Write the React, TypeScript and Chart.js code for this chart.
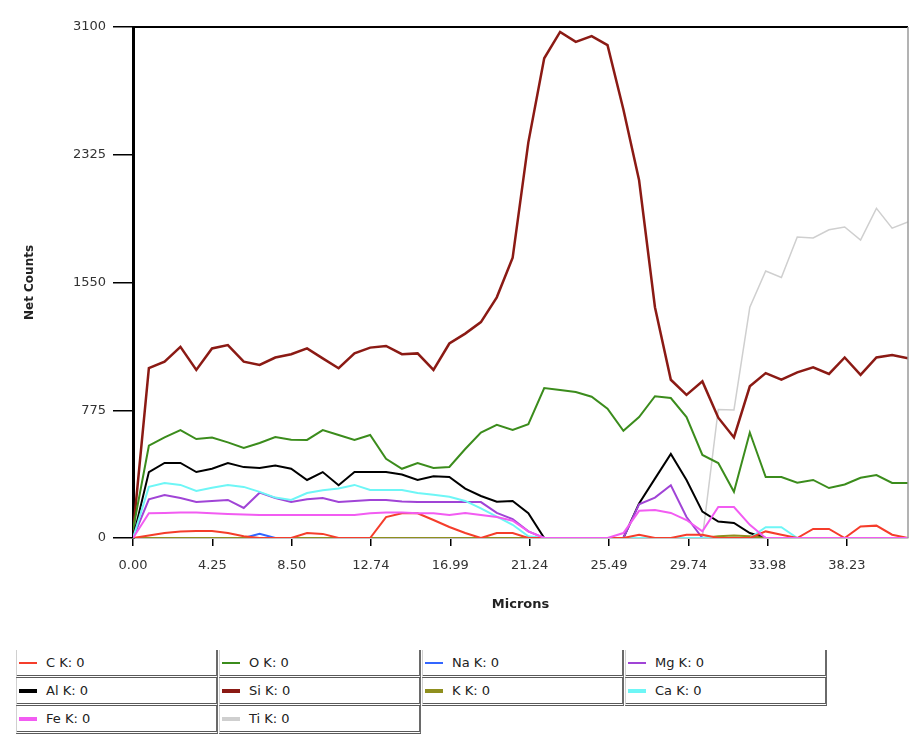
import React, { useEffect, useRef } from "react";
import { Chart, registerables } from "chart.js";

Chart.register(...registerables);

const microns = [
  0.0, 0.85, 1.69, 2.54, 3.39, 4.23, 5.08, 5.93, 6.78, 7.62,
  8.47, 9.32, 10.16, 11.01, 11.86, 12.7, 13.55, 14.4, 15.24, 16.09,
  16.94, 17.79, 18.63, 19.48, 20.33, 21.17, 22.02, 22.87, 23.71, 24.56,
  25.41, 26.26, 27.1, 27.95, 28.8, 29.64, 30.49, 31.34, 32.18, 33.03,
  33.88, 34.72, 35.57, 36.42, 37.27, 38.11, 38.96, 39.81, 40.65, 41.5,
];

const cK = [
  0, 15, 30, 40, 42, 42, 30, 10, 0, 0,
  0, 30, 25, 0, 0, 0, 127, 150, 150, 109,
  67, 30, 0, 30, 30, 0, 0, 0, 0, 0,
  0, 0, 20, 0, 0, 20, 20, 0, 0, 0,
  40, 20, 0, 55, 55, 0, 70, 75, 20, 0,
];
const oK = [
  50, 560, 610, 655, 600, 610, 580, 546, 576, 612,
  596, 595, 655, 625, 595, 625, 480, 420, 455, 425,
  431, 540, 640, 686, 655, 690, 910, 898, 886, 857,
  785, 650, 734, 860, 849, 734, 504, 455, 280, 640,
  370, 370, 336, 352, 303, 325, 365, 382, 334, 334,
];
const naK = [
  0, 0, 0, 0, 0, 0, 0, 0, 25, 0,
  0, 0, 0, 0, 0, 0, 0, 0, 0, 0,
  0, 0, 0, 0, 0, 0, 0, 0, 0, 0,
  0, 0, 0, 0, 0, 0, 0, 0, 0, 0,
  0, 0, 0, 0, 0, 0, 0, 0, 0, 0,
];
const mgK = [
  0, 235, 261, 243, 218, 225, 231, 182, 275, 243,
  218, 235, 243, 218, 225, 231, 231, 222, 218, 218,
  218, 218, 218, 152, 115, 40, 0, 0, 0, 0,
  0, 0, 205, 245, 320, 127, 0, 0, 0, 0,
  0, 0, 0, 0, 0, 0, 0, 0, 0, 0,
];
const alK = [
  0, 400, 455, 455, 400, 420, 455, 430, 425, 440,
  420, 352, 400, 320, 400, 400, 400, 385, 352, 375,
  370, 300, 255, 220, 225, 150, 0, 0, 0, 0,
  0, 0, 210, 360, 510, 352, 160, 100, 91, 30,
  0, 0, 0, 0, 0, 0, 0, 0, 0, 0,
];
const siK = [
  30, 1030, 1070, 1160, 1020, 1150, 1170, 1070, 1050, 1095,
  1115, 1150, 1090, 1030, 1120, 1155, 1165, 1115, 1120, 1020,
  1180, 1240, 1310, 1460, 1700, 2400, 2910, 3070, 3010, 3045,
  2990, 2600, 2170, 1400, 960, 868, 950, 730, 610, 920,
  1000, 960, 1005, 1035, 995, 1095, 990, 1095, 1110, 1090,
];
const kK = [
  0, 0, 0, 0, 0, 0, 0, 0, 0, 0,
  0, 0, 0, 0, 0, 0, 0, 0, 0, 0,
  0, 0, 0, 0, 0, 0, 0, 0, 0, 0,
  0, 0, 0, 0, 0, 0, 0, 10, 15, 10,
  0, 0, 0, 0, 0, 0, 0, 0, 0, 0,
];
const caK = [
  0, 310, 334, 322, 285, 305, 322, 310, 280, 245,
  231, 273, 290, 300, 322, 291, 291, 291, 273, 262,
  250, 225, 180, 130, 80, 10, 0, 0, 0, 0,
  0, 0, 0, 0, 0, 0, 0, 0, 0, 0,
  65, 65, 0, 0, 0, 0, 0, 0, 0, 0,
];
const feK = [
  0, 150, 152, 155, 155, 150, 145, 142, 140, 140,
  140, 140, 140, 140, 140, 150, 155, 155, 150, 150,
  140, 152, 140, 127, 105, 40, 0, 0, 0, 0,
  0, 30, 165, 170, 152, 109, 40, 188, 188, 80,
  0, 0, 0, 0, 0, 0, 0, 0, 0, 0,
];
const tiK = [
  0, 0, 0, 0, 0, 0, 0, 0, 0, 0,
  0, 0, 0, 0, 0, 0, 0, 0, 0, 0,
  0, 0, 0, 0, 0, 0, 0, 0, 0, 0,
  0, 0, 0, 0, 0, 0, 0, 780, 777, 1400,
  1620, 1580, 1826, 1820, 1870, 1887, 1808, 2000, 1880, 1917,
];

const seriesNames = ["C K: 0", "O K: 0", "Na K: 0", "Mg K: 0", "Al K: 0", "Si K: 0", "K K: 0", "Ca K: 0", "Fe K: 0", "Ti K: 0"];
const seriesValues = [cK, oK, naK, mgK, alK, siK, kK, caK, feK, tiK];
const seriesColors = ["#f53d2b", "#3b8c1c", "#3366ff", "#a044d6", "#000000", "#8b1a14", "#8f8f1e", "#6ef6f6", "#f25cf2", "#cfcfcf"];
const seriesWidths = [2, 2, 2, 2, 2, 2.5, 2, 2, 2, 1.5];
const drawOrder = [1, 7, 4, 5, 6, 8, 3, 2, 0, 9];

const xTickValues = [0, 4.25, 8.5, 12.74, 16.99, 21.24, 25.49, 29.74, 33.98, 38.23];
const xTickLabels = ["0.00", "4.25", "8.50", "12.74", "16.99", "21.24", "25.49", "29.74", "33.98", "38.23"];
const yTickValues = [0, 775, 1550, 2325, 3100];

const framePlugin = {
  id: "frame",
  afterDraw(chart: any) {
    const { ctx, chartArea } = chart;
    const { left, right, top, bottom } = chartArea;
    ctx.save();
    ctx.strokeStyle = "#000";
    ctx.lineWidth = 2;
    ctx.beginPath();
    ctx.moveTo(left, top);
    ctx.lineTo(right, top);
    ctx.stroke();
    ctx.strokeStyle = "#9a9a9a";
    ctx.lineWidth = 1.5;
    ctx.beginPath();
    ctx.moveTo(right, top);
    ctx.lineTo(right, bottom);
    ctx.stroke();
    ctx.restore();
  },
};

const FONT = "'DejaVu Sans', 'Liberation Sans', sans-serif";

export default function App() {
  const ref = useRef<HTMLCanvasElement | null>(null);

  useEffect(() => {
    if (!ref.current) return;
    const datasets = seriesNames.map((name, i) => ({
      label: name,
      data: seriesValues[i].map((v, j) => ({ x: microns[j], y: v })),
      borderColor: seriesColors[i],
      backgroundColor: seriesColors[i],
      borderWidth: seriesWidths[i],
      pointRadius: 0,
      tension: 0,
      fill: false,
      order: drawOrder[i],
    }));
    const chart = new Chart(ref.current, {
      type: "line",
      data: { datasets },
      plugins: [framePlugin],
      options: {
        animation: false,
        responsive: false,
        maintainAspectRatio: false,
        layout: { padding: { left: 0, top: 27, right: 8, bottom: 0 } },
        plugins: { legend: { display: false }, tooltip: { enabled: false } },
        scales: {
          x: {
            type: "linear",
            min: 0,
            max: 41.5,
            afterFit: (s: any) => {
              s.height = 102;
            },
            afterBuildTicks: (s: any) => {
              s.ticks = xTickValues.map((v) => ({ value: v }));
            },
            ticks: {
              autoSkip: false,
              maxRotation: 0,
              padding: 12,
              color: "#333",
              font: { family: FONT, size: 13 },
              callback: (_v: any, idx: number) => xTickLabels[idx],
            },
            grid: { drawOnChartArea: false, drawTicks: true, tickLength: 8, color: "#000", lineWidth: 1.5 },
            border: { color: "#c4c4c4", width: 2 },
            title: {
              display: true,
              text: "Microns",
              color: "#222",
              font: { family: FONT, size: 13, weight: "bold" },
              padding: { top: 0, bottom: 28 },
            },
          },
          y: {
            min: 0,
            max: 3100,
            afterFit: (s: any) => {
              s.width = 133;
            },
            afterBuildTicks: (s: any) => {
              s.ticks = yTickValues.map((v) => ({ value: v }));
            },
            ticks: {
              padding: 7,
              color: "#333",
              font: { family: FONT, size: 13 },
              callback: (v: any) => String(v),
            },
            grid: { drawOnChartArea: false, drawTicks: true, tickLength: 20, color: "#000", lineWidth: 1.5 },
            border: { color: "#000", width: 3 },
            title: {
              display: true,
              text: "Net Counts",
              color: "#222",
              font: { family: FONT, size: 12, weight: "bold" },
              padding: { top: 23, bottom: 0 },
            },
          },
        },
      },
    } as any);
    return () => chart.destroy();
  }, []);

  return (
    <div style={{ position: "absolute", left: 0, top: 0, width: 916, height: 738, background: "#fff" }}>
      <canvas ref={ref} width={916} height={640} style={{ width: 916, height: 640, display: "block" }} />
      {seriesNames.map((name, i) => {
        const col = i % 4;
        const row = Math.floor(i / 4);
        return (
          <div
            key={name}
            style={{
              position: "absolute",
              left: 16 + col * 203,
              top: 650 + row * 28,
              width: 199,
              height: 25,
              borderLeft: "1px solid #d0d0d0",
              borderRight: "2px solid #6a6a6a",
              borderBottom: "3px double #5a5a5a",
              boxSizing: "content-box",
              fontFamily: FONT,
              fontSize: 13,
              color: "#222",
              display: "flex",
              alignItems: "center",
            }}
          >
            <span
              style={{
                display: "inline-block",
                width: 18,
                height: row === 0 ? 2 : 4,
                background: seriesColors[i],
                marginLeft: 2,
                marginRight: 9,
              }}
            />
            <span>{name}</span>
          </div>
        );
      })}
    </div>
  );
}
